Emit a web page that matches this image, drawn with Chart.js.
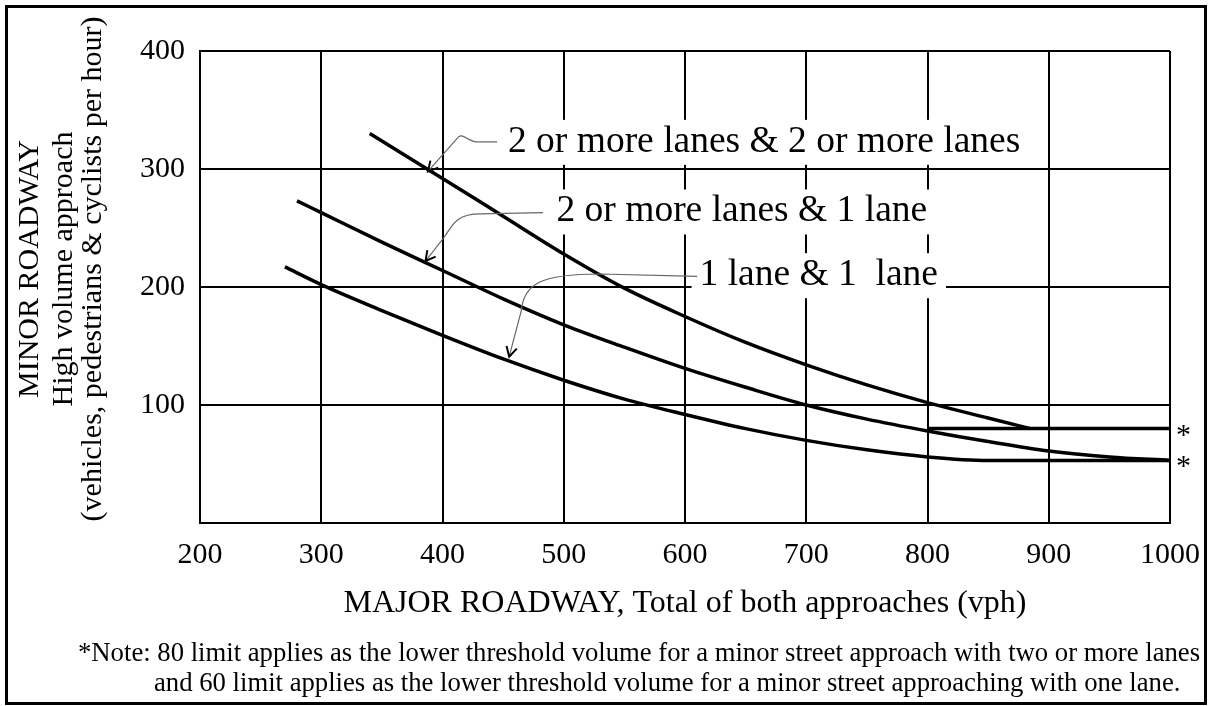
<!DOCTYPE html>
<html>
<head>
<meta charset="utf-8">
<title>Minor roadway high volume approach</title>
<script src="https://cdn.jsdelivr.net/npm/chart.js@4.4.1/dist/chart.umd.min.js"></script>
<style>
    html, body { margin: 0; padding: 0; background: #fff; }
    canvas { display: block; }
</style>
</head>
<body>
<canvas id="chart" width="1208" height="706"></canvas>
<script>
'use strict';

const SERIF = "'Liberation Serif', 'Times New Roman', Times, serif";

// Axis ranges / ticks
const xTicks = [200, 300, 400, 500, 600, 700, 800, 900, 1000];
const yTicks = [0, 100, 200, 300, 400];

// Curves (major vph -> minor vph)
const twoTwoX = [340, 400, 450, 500, 550, 600, 650, 700, 750, 800, 850, 885];
const twoTwoY = [330, 292, 260, 228, 199, 175, 153, 134, 117, 102, 89, 80];

const twoOneX = [280, 300, 350, 400, 450, 500, 550, 600, 650, 700, 750, 800, 850, 900, 950, 1000];
const twoOneY = [273, 263, 238, 214, 190, 168, 149, 131, 115, 100, 88, 78, 69, 61, 56, 53];

const oneOneX = [270, 300, 350, 400, 450, 500, 550, 600, 650, 700, 750, 800, 850, 900, 1000];
const oneOneY = [217, 202, 180, 159, 139, 121, 105, 92, 80, 70, 62, 56, 53, 53, 53];

// lower threshold lines marked with * at the right edge
const limitX = [800, 1000];
const limit80Y = [80, 80];
const limitStarY = [80, 53];

// Callout labels: text, left edge (data x), middle (data y)
const calloutText = ['2 or more lanes & 2 or more lanes', '2 or more lanes & 1 lane', '1 lane & 1  lane'];
const calloutX = [454, 494, 612];
const calloutY = [323, 264, 210];

// Leader lines in data coordinates: start, straight run, curve (3 pts), arrow tip
const leaderPaths = [
    [[445, 323], [431, 323], [421, 322], [418, 331], [413, 327], [388, 298]],
    [[483, 263], [431, 262], [411, 262], [408, 252], [402, 243], [386, 222]],
    [[610, 209], [530, 211], [480, 211], [467, 202], [465, 180], [455, 141]],
];

const yTitle = ['MINOR ROADWAY', 'High volume approach', '(vehicles, pedestrians & cyclists per hour)'];
const xTitle = 'MAJOR ROADWAY, Total of both approaches (vph)';
const noteLines = [
    '*Note: 80 limit applies as the lower threshold volume for a minor street approach with two or more lanes',
    'and 60 limit applies as the lower threshold volume for a minor street approaching with one lane.',
];

function toPoints(xs, ys) {
    return xs.map(function (x, i) {
        return { x: x, y: ys[i] };
    });
}

function curve(label, xs, ys) {
    return {
        label: label,
        data: toPoints(xs, ys),
        borderColor: '#000',
        borderWidth: 3.5,
        pointRadius: 0,
        showLine: true,
        cubicInterpolationMode: 'monotone',
        fill: false,
    };
}

function drawArrowHead(ctx, fromX, fromY, tipX, tipY) {
    const ang = Math.atan2(tipY - fromY, tipX - fromX);
    const len = 11;
    const spread = 0.5;
    ctx.save();
    ctx.strokeStyle = '#000';
    ctx.lineWidth = 2;
    ctx.beginPath();
    ctx.moveTo(tipX - len * Math.cos(ang - spread), tipY - len * Math.sin(ang - spread));
    ctx.lineTo(tipX, tipY);
    ctx.lineTo(tipX - len * Math.cos(ang + spread), tipY - len * Math.sin(ang + spread));
    ctx.stroke();
    ctx.restore();
}

const calloutPlugin = {
    id: 'callouts',
    afterDatasetsDraw: function (chart) {
        const ctx = chart.ctx;
        const xs = chart.scales.x;
        const ys = chart.scales.y;

        ctx.save();
        ctx.font = '37.5px ' + SERIF;
        ctx.textBaseline = 'middle';
        ctx.textAlign = 'left';
        calloutText.forEach(function (txt, i) {
            const px = xs.getPixelForValue(calloutX[i]);
            const py = ys.getPixelForValue(calloutY[i]);
            const w = ctx.measureText(txt).width;
            // white box hides the grid behind the label
            ctx.fillStyle = '#fff';
            ctx.fillRect(px - 8, py - 22, w + 16, 45);
            ctx.fillStyle = '#000';
            ctx.fillText(txt, px, py);
        });

        // leaders
        leaderPaths.forEach(function (path) {
            const p = path.map(function (d) {
                return [xs.getPixelForValue(d[0]), ys.getPixelForValue(d[1])];
            });
            ctx.strokeStyle = '#666';
            ctx.lineWidth = 1.2;
            ctx.beginPath();
            ctx.moveTo(p[0][0], p[0][1]);
            ctx.lineTo(p[1][0], p[1][1]);
            ctx.bezierCurveTo(p[2][0], p[2][1], p[3][0], p[3][1], p[4][0], p[4][1]);
            ctx.lineTo(p[5][0], p[5][1]);
            ctx.stroke();
            drawArrowHead(ctx, p[4][0], p[4][1], p[5][0], p[5][1]);
        });

        // asterisks for the threshold lines
        ctx.font = '30px ' + SERIF;
        ctx.fillStyle = '#000';
        ctx.textBaseline = 'alphabetic';
        limitStarY.forEach(function (v) {
            ctx.fillText('*', xs.right + 6, ys.getPixelForValue(v) + 15);
        });
        ctx.restore();
    },
    afterDraw: function (chart) {
        const ctx = chart.ctx;
        const area = chart.chartArea;
        ctx.save();
        ctx.fillStyle = '#000';

        // y title, three rotated lines
        ctx.font = '30px ' + SERIF;
        ctx.textAlign = 'center';
        ctx.textBaseline = 'alphabetic';
        const baseX = [38, 72, 101];
        yTitle.forEach(function (line, i) {
            ctx.save();
            ctx.translate(baseX[i], 269);
            ctx.rotate(-Math.PI / 2);
            ctx.fillText(line, 0, 0);
            ctx.restore();
        });

        // x title
        ctx.font = '32px ' + SERIF;
        ctx.fillText(xTitle, (area.left + area.right) / 2, 612);

        // note
        ctx.font = '26.7px ' + SERIF;
        ctx.textAlign = 'left';
        ctx.fillText(noteLines[0], 78, 661);
        ctx.fillText(noteLines[1], 154, 691);

        // outer frame
        ctx.strokeStyle = '#000';
        ctx.lineWidth = 3;
        ctx.strokeRect(6.5, 6.5, 1199, 697);
        ctx.restore();
    },
};

new Chart(document.getElementById('chart'), {
    type: 'line',
    data: {
        datasets: [
            curve('2 or more lanes & 2 or more lanes', twoTwoX, twoTwoY),
            curve('2 or more lanes & 1 lane', twoOneX, twoOneY),
            curve('1 lane & 1 lane', oneOneX, oneOneY),
            curve('80 limit', limitX, limit80Y),
        ],
    },
    options: {
        responsive: false,
        animation: false,
        devicePixelRatio: 1,
        layout: { autoPadding: false, padding: { left: 0, right: 38, top: 51, bottom: 0 } },
        plugins: {
            legend: { display: false },
            tooltip: { enabled: false },
        },
        scales: {
            x: {
                type: 'linear',
                min: xTicks[0],
                max: xTicks[xTicks.length - 1],
                afterBuildTicks: function (scale) {
                    scale.ticks = xTicks.map(function (v) { return { value: v }; });
                },
                afterFit: function (scale) {
                    scale.height = 183;
                    // label overhang is already covered by the layout padding
                    scale.paddingLeft = 0;
                    scale.paddingRight = 0;
                },
                grid: { color: '#000', lineWidth: 2, drawTicks: false },
                border: { color: '#000', width: 2 },
                ticks: {
                    color: '#000',
                    padding: 14,
                    maxRotation: 0,
                    font: { family: SERIF, size: 30 },
                    callback: function (v) { return String(v); },
                },
            },
            y: {
                type: 'linear',
                min: yTicks[0],
                max: yTicks[yTicks.length - 1],
                afterBuildTicks: function (scale) {
                    scale.ticks = yTicks.map(function (v) { return { value: v }; });
                },
                afterFit: function (scale) {
                    scale.width = 200;
                    scale.paddingTop = 0;
                    scale.paddingBottom = 0;
                },
                grid: { color: '#000', lineWidth: 2, drawTicks: false },
                border: { color: '#000', width: 2 },
                ticks: {
                    color: '#000',
                    padding: 15,
                    font: { family: SERIF, size: 30 },
                    callback: function (v) { return v === 0 ? '' : String(v); },
                },
            },
        },
    },
    plugins: [calloutPlugin],
});
</script>
</body>
</html>
